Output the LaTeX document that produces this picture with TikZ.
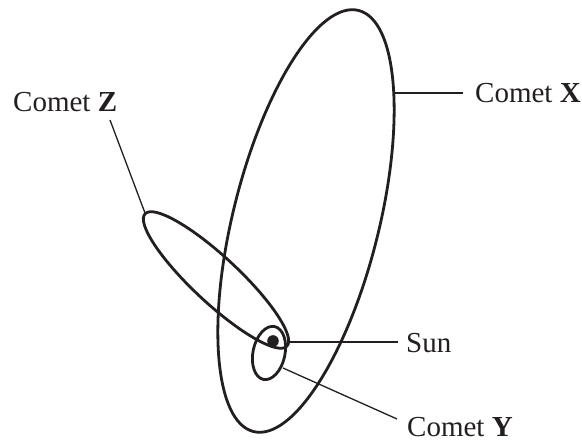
\documentclass[tikz,border=0pt]{standalone}
\usepackage{fontspec}
\setmainfont{Liberation Serif}
\definecolor{ink}{HTML}{231F20}
\begin{document}
\begin{tikzpicture}[x=1pt,y=1pt,
  orbit/.style={line width=2.8pt,draw=ink},
  leader/.style={line width=1.3pt,draw=ink},
  lbl/.style={anchor=base west,inner sep=0pt,text=ink,font=\fontsize{29}{34}\selectfont}]
\useasboundingbox (0,0) rectangle (582,444);
% orbits
\draw[orbit] (306,223) ellipse [x radius=217, y radius=73, rotate=76];
\draw[orbit] (216,164) ellipse [x radius=97, y radius=23, rotate=-43];
\draw[orbit] (269,91) ellipse [x radius=27, y radius=16, rotate=78];
\fill[ink] (273,103) circle (5.8);
% labels
\node[lbl] (lx) at (475,341) {Comet \textbf{X}};
\node[lbl] (lz) at (13,332) {Comet \textbf{Z}};
\node[lbl] (ls) at (406,91) {Sun};
\node[lbl] (ly) at (407,7) {Comet \textbf{Y}};
% leader end points
\coordinate (xa) at (395,351);
\coordinate (xb) at (463,351);
\coordinate (za) at (145,231);
\coordinate (zb) at (110,324);
\coordinate (sa) at (287,102);
\coordinate (sb) at (398,102);
\coordinate (ya) at (283,76);
\coordinate (yb) at (397,25);
\draw[leader] (xa) -- (xb);
\draw[leader] (za) -- (zb);
\draw[leader] (sa) -- (sb);
\draw[leader] (ya) -- (yb);
\end{tikzpicture}
\end{document}
